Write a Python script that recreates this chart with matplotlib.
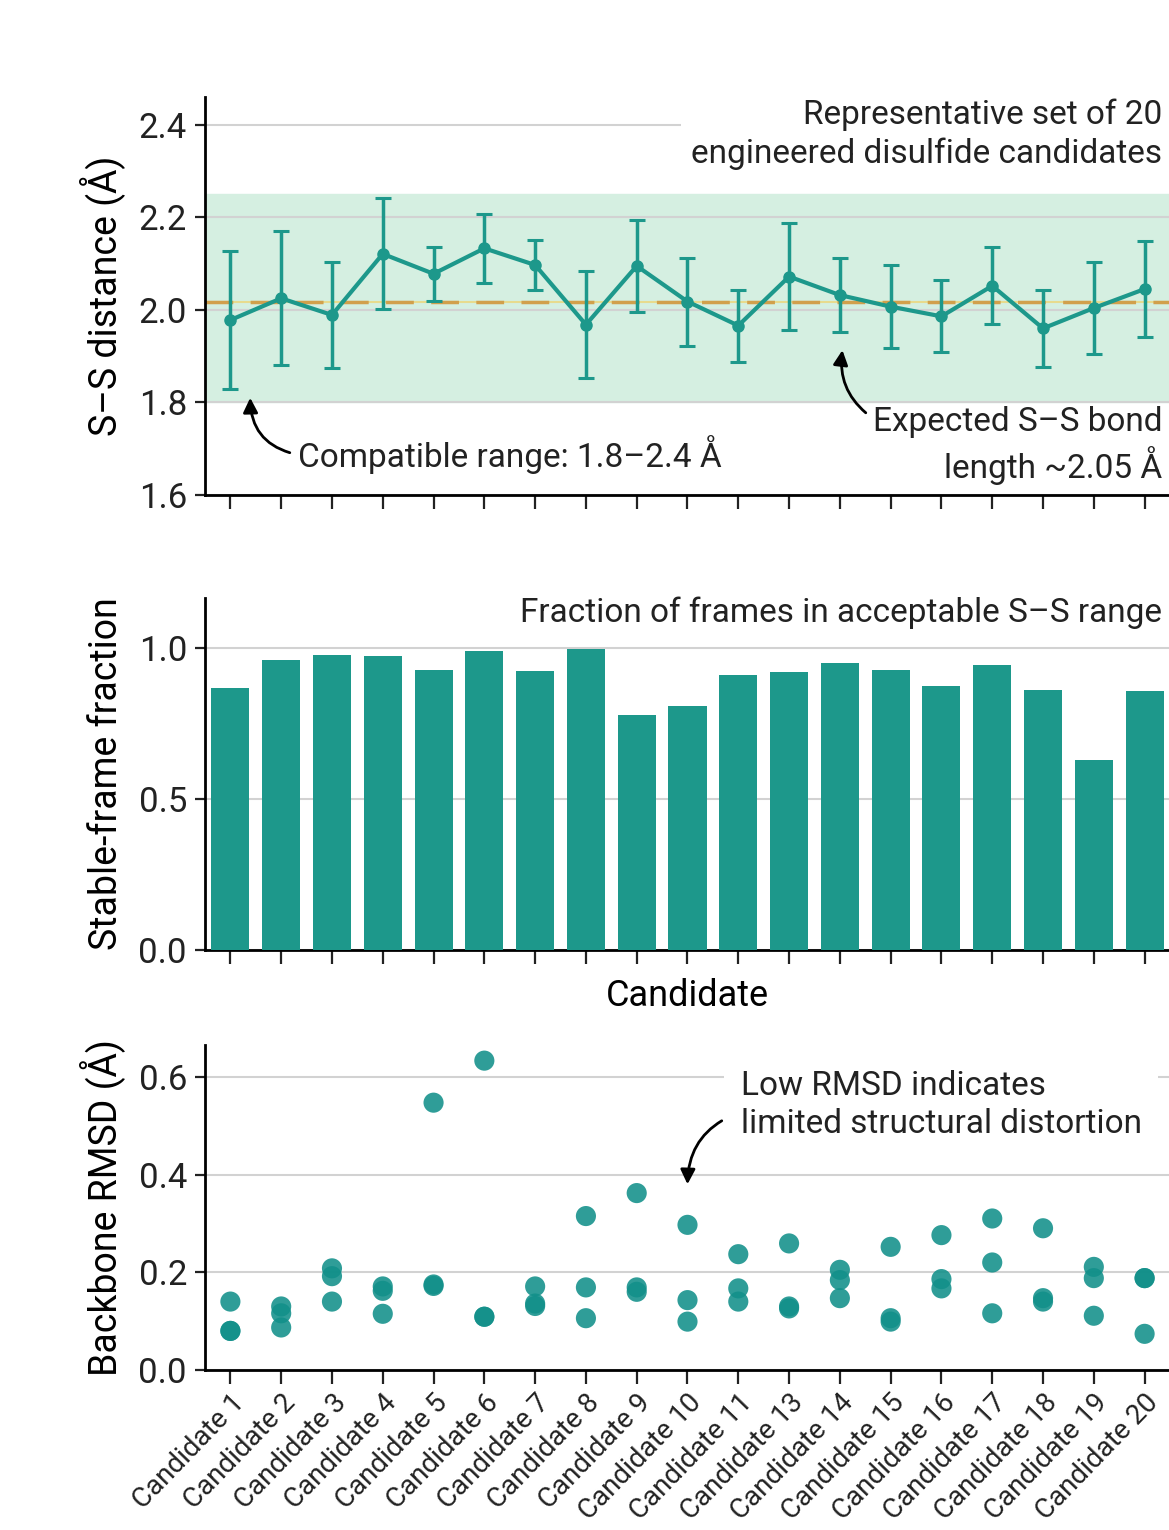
import matplotlib
matplotlib.use("Agg")
import matplotlib.pyplot as plt
import numpy as np

plt.rcParams['font.family'] = ['Roboto', 'DejaVu Sans']

# ---------------- data ----------------
labels = ["Candidate 1", "Candidate 2", "Candidate 3", "Candidate 4", "Candidate 5",
          "Candidate 6", "Candidate 7", "Candidate 8", "Candidate 9", "Candidate 10",
          "Candidate 11", "Candidate 13", "Candidate 14", "Candidate 15", "Candidate 16",
          "Candidate 17", "Candidate 18", "Candidate 19", "Candidate 20"]

ss_mean = [1.978, 2.025, 1.989, 2.121, 2.078, 2.133, 2.097, 1.968, 2.095, 2.018,
           1.966, 2.072, 2.032, 2.007, 1.986, 2.052, 1.960, 2.004, 2.045]
ss_err = [0.150, 0.145, 0.115, 0.120, 0.058, 0.075, 0.055, 0.115, 0.100, 0.095,
          0.078, 0.115, 0.080, 0.090, 0.078, 0.083, 0.083, 0.100, 0.104]

stable_frac = [0.868, 0.960, 0.977, 0.974, 0.927, 0.990, 0.924, 0.997, 0.778, 0.808,
               0.911, 0.921, 0.950, 0.927, 0.874, 0.944, 0.861, 0.629, 0.858]

rmsd_rep1 = [0.140, 0.130, 0.208, 0.171, 0.547, 0.633, 0.171, 0.315, 0.362, 0.297,
             0.237, 0.259, 0.205, 0.252, 0.276, 0.310, 0.290, 0.211, 0.188]
rmsd_rep2 = [0.080, 0.116, 0.192, 0.162, 0.175, 0.109, 0.136, 0.169, 0.169, 0.143,
             0.167, 0.130, 0.184, 0.106, 0.186, 0.220, 0.147, 0.188, 0.188]
rmsd_rep3 = [0.080, 0.087, 0.140, 0.115, 0.172, 0.109, 0.131, 0.106, 0.160, 0.099,
             0.140, 0.126, 0.147, 0.099, 0.167, 0.116, 0.140, 0.111, 0.074]

compatible_low, compatible_high = 1.8, 2.25
expected_line = 2.017

# ---------------- layout ----------------
W, H = 1169, 1530
fig = plt.figure(figsize=(W / 100, H / 100), dpi=100)


def rect(left, top, right, bottom):
    return [left / W, 1 - bottom / H, (right - left) / W, (bottom - top) / H]


ax1 = fig.add_axes(rect(205, 97, 1170, 495))
ax2 = fig.add_axes(rect(205, 598, 1170, 950))
ax3 = fig.add_axes(rect(205, 1045, 1170, 1370))

teal = '#1d988b'
grid_c = '#d2d2d2'
x = np.arange(len(labels))
right_text = 18.35   # right edge for right-aligned notes (kept inside the figure)

for ax in (ax1, ax2, ax3):
    ax.set_xlim(-0.5, len(labels) - 0.5)
    for s in ('top', 'right'):
        ax.spines[s].set_visible(False)
    for s in ('left', 'bottom'):
        ax.spines[s].set_linewidth(2)
    ax.set_xticks(x)
    ax.tick_params(axis='both', direction='out', width=1.6, labelsize=25, colors='#222222')
    ax.tick_params(axis='x', length=10)
    ax.tick_params(axis='y', length=7, pad=6)
    ax.yaxis.grid(True, color=grid_c, lw=1.5)
    ax.set_axisbelow(True)

# ---------------- panel 1 ----------------
ax1.set_ylim(1.6, 2.46)
ax1.set_yticks([1.6, 1.8, 2.0, 2.2, 2.4])
ax1.set_yticklabels(['1.6', '1.8', '2.0', '2.2', '2.4'])
ax1.axhspan(compatible_low, compatible_high, color='#d5efe1', zorder=0)
ax1.axhline(expected_line, color='#ecd77a', lw=1.5, alpha=0.8, zorder=1)
ax1.axhline(expected_line, color='#d1a04c', lw=2.5, dashes=(8, 5), zorder=2)
ax1.errorbar(x, ss_mean, yerr=ss_err, color=teal, lw=3, marker='o', ms=8,
             capsize=6, capthick=2.2, elinewidth=2.5, zorder=3)
ax1.tick_params(axis='x', labelbottom=False)
ax1.set_ylabel('S–S distance (Å)', fontsize=27, labelpad=10)

ax1.text(right_text, 2.379, 'Representative set of 20\nengineered disulfide candidates',
         ha='right', va='center', multialignment='right', fontsize=24, color='#222222',
         linespacing=1.25,
         bbox=dict(boxstyle='square,pad=0.3', fc='white', ec='none'), zorder=4)

ax1.annotate('Compatible range: 1.8–2.4 Å', xy=(0.39, 1.81), xytext=(1.33, 1.687),
             ha='left', va='center', fontsize=24, color='#222222',
             arrowprops=dict(arrowstyle='-|>', color='black', lw=2,
                             connectionstyle='arc3,rad=-0.4', mutation_scale=22,
                             shrinkA=4, shrinkB=0, relpos=(0, 0.5)))

ax1.annotate('Expected S–S bond\nlength ~2.05 Å', xy=(12.05, 1.913), xytext=(right_text, 1.706),
             ha='right', va='center', multialignment='right', fontsize=24, color='#222222',
             linespacing=1.25,
             arrowprops=dict(arrowstyle='-|>', color='black', lw=2,
                             connectionstyle='arc3,rad=-0.3', mutation_scale=22,
                             shrinkA=4, shrinkB=0, relpos=(0, 0.85)))

# ---------------- panel 2 ----------------
ax2.bar(x, stable_frac, width=0.75, color=teal, zorder=3)
ax2.set_ylim(0, 1.166)
ax2.set_yticks([0.0, 0.5, 1.0])
ax2.set_yticklabels(['0.0', '0.5', '1.0'])
ax2.tick_params(axis='x', labelbottom=False)
ax2.set_ylabel('Stable-frame fraction', fontsize=27, labelpad=10)
ax2.set_xlabel('Candidate', fontsize=26, labelpad=10)
ax2.text(right_text, 1.116, 'Fraction of frames in acceptable S–S range', ha='right',
         va='center', fontsize=24, color='#222222')

# ---------------- panel 3 ----------------
for reps in (rmsd_rep1, rmsd_rep2, rmsd_rep3):
    ax3.scatter(x, reps, s=210, color='#12908a', alpha=0.88, edgecolors='none', zorder=3)
ax3.set_ylim(0, 0.665)
ax3.set_yticks([0.0, 0.2, 0.4, 0.6])
ax3.set_yticklabels(['0.0', '0.2', '0.4', '0.6'])
ax3.set_xticklabels(labels, rotation=46, ha='right', va='top', rotation_mode='anchor',
                    fontsize=20)
ax3.set_ylabel('Backbone RMSD (Å)', fontsize=27, labelpad=10)

ax3.annotate('Low RMSD indicates\nlimited structural distortion', xy=(9.0, 0.38),
             xytext=(10.05, 0.542), ha='left', va='center', fontsize=24, color='#222222',
             linespacing=1.25,
             bbox=dict(boxstyle='square,pad=0.5', fc='white', ec='none'),
             arrowprops=dict(arrowstyle='-|>', color='black', lw=2,
                             connectionstyle='arc3,rad=0.35', mutation_scale=22,
                             shrinkA=2, shrinkB=0, relpos=(0, 0.4)), zorder=4)

fig.savefig('out.png', dpi=100)
